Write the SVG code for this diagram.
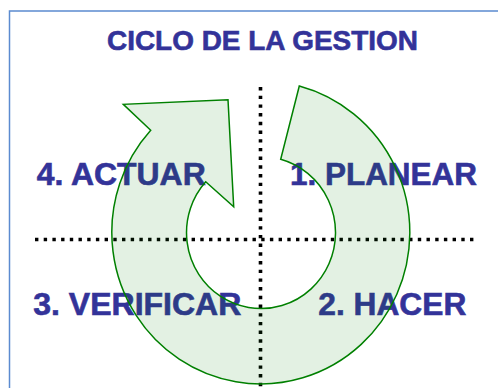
<svg xmlns="http://www.w3.org/2000/svg" width="498" height="388" viewBox="0 0 498 388">
<style>
.lbl{font-family:"Liberation Sans",Arial,sans-serif;font-weight:bold;fill:#333399;stroke:#333399;stroke-width:0.6;}
.dot{stroke:#000;stroke-width:3.6;stroke-dasharray:3.4 5.3;fill:none;}
</style>
<rect x="0" y="0" width="498" height="388" fill="#fff"/>
<rect id="frame" x="9.5" y="11" width="500" height="400" fill="none" stroke="#5b8bd0" stroke-width="1.5"/>
<g id="title"><text class="lbl" x="107" y="49.5" font-size="27.5" textLength="311" lengthAdjust="spacingAndGlyphs">CICLO DE LA GESTION</text></g>
<g id="connectors">
<line class="dot" x1="260.5" y1="87" x2="260.5" y2="390"/>
<line class="dot" x1="35" y1="239.5" x2="474" y2="239.5"/>
</g>
<g id="actuar"><text class="lbl" x="36.7" y="184.5" font-size="31" textLength="169" lengthAdjust="spacingAndGlyphs">4. ACTUAR</text></g>
<g id="planear"><text class="lbl" x="290" y="184.5" font-size="31" textLength="187" lengthAdjust="spacingAndGlyphs">1. PLANEAR</text></g>
<g id="verificar"><text class="lbl" x="33.3" y="314.5" font-size="31" textLength="208" lengthAdjust="spacingAndGlyphs">3. VERIFICAR</text></g>
<g id="hacer"><text class="lbl" x="318.3" y="314.5" font-size="31" textLength="148" lengthAdjust="spacingAndGlyphs">2. HACER</text></g>
<g id="cycle-arrow">
<path d="M299.3,86 A149,151.5 0 1 1 150.7,130.3 L123.3,104.3 L228,99.7 L233.7,206.7 L205.7,181.7 A74.5,76 0 1 0 280.7,159.3 Z" fill="#008000" fill-opacity="0.11" stroke="#008000" stroke-width="1.5" stroke-linejoin="miter"/>
</g>
</svg>
